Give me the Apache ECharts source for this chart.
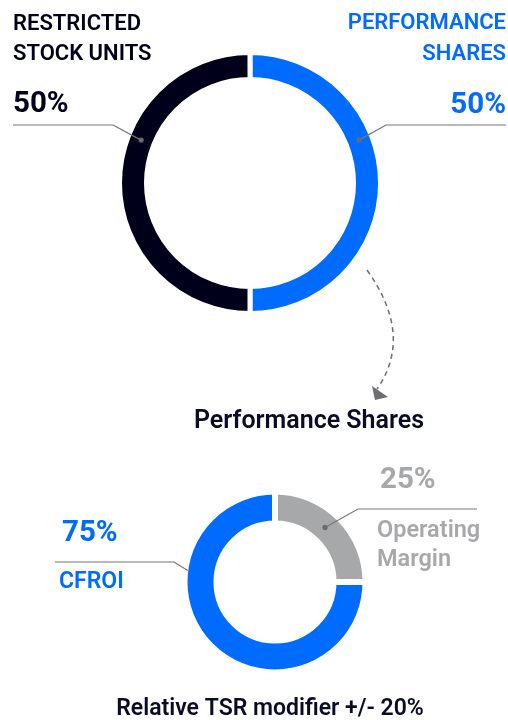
<!DOCTYPE html>
<html>
<head>
<meta charset="utf-8">
<script src="https://cdn.jsdelivr.net/npm/echarts@6/dist/echarts.min.js"></script>
<style>
  html, body { margin: 0; padding: 0; background: #ffffff; }
  #chart { width: 508px; height: 720px; }
</style>
</head>
<body>
<div id="chart"></div>
<script>
// 数据
const topNames = ['PERFORMANCE\nSHARES', 'RESTRICTED\nSTOCK UNITS'];
const topValues = [50, 50];
const bottomNames = ['Operating\nMargin', 'CFROI'];
const bottomValues = [25, 75];
const topTitle = 'Performance Shares';
const bottomTitle = 'Relative TSR modifier +/- 20%';

const NAVY = '#00001a';
const BLUE = '#006bff';
const GREY = '#a7a8aa';
const LINE = '#767676';
const FONT = 'Roboto';

const topColors = [BLUE, NAVY];
const bottomColors = [GREY, BLUE];

// 环形图位置
const topPie = { cx: 250, cy: 183, outer: 128, inner: 106, gap: 5 };
const bottomPie = { cx: 275, cy: 582, outer: 87.5, inner: 61.5, gap: 6 };

// 标注线（角度、半径、折点、终点）
const topCallouts = [
  { angle: 21.5, r: 117, elbow: [386, 125], endX: 506, dot: true, align: 'right', x: 506,
    nameTop: [15, 46], pctTop: 96, nameSize: 22 },
  { angle: 158.5, r: 117, elbow: [113, 125], endX: 13, dot: true, align: 'left', x: 13,
    nameTop: [16, 46], pctTop: 95, nameSize: 22 }
];
const bottomCallouts = [
  { angle: 47.5, r: 74, elbow: [358, 509], endX: 477, dot: true, align: 'left', x: 377,
    nameTop: [523, 552], pctTop: 471, pctX: 380, nameSize: 23.5 },
  { angle: 172.5, r: 88, elbow: [174, 562], endX: 55, dot: false, align: 'left', x: 59,
    nameTop: [574], pctTop: 524, pctX: 62, nameSize: 23 }
];

const polar = (p, r, deg) => {
  const a = deg * Math.PI / 180;
  return [p.cx + r * Math.cos(a), p.cy - r * Math.sin(a)];
};

const text = (x, capTop, capH, str, font, color, align) => ({
  type: 'text',
  silent: true,
  z: 20,
  style: {
    x: x, y: capTop + capH / 2, text: str, font: font, fill: color,
    textAlign: align, textVerticalAlign: 'middle'
  }
});

const callout = (pie, c, name, value, color) => {
  const a = polar(pie, c.r, c.angle);
  const els = [{
    type: 'polyline', silent: true, z: 20,
    shape: { points: [a, c.elbow, [c.endX, c.elbow[1]]] },
    style: { stroke: LINE, lineWidth: 1.2, fill: null }
  }];
  if (c.dot) {
    els.push({ type: 'circle', silent: true, z: 21, shape: { cx: a[0], cy: a[1], r: 2.6 }, style: { fill: '#6b6b6b' } });
  }
  const pctX = c.pctX !== undefined ? c.pctX : c.x;
  els.push(text(pctX, c.pctTop, 20, value + '%', '700 29.5px ' + FONT, color, c.align));
  name.split('\n').forEach((line, i) => {
    els.push(text(c.x, c.nameTop[i], 16, line, '600 ' + c.nameSize + 'px ' + FONT, color, c.align));
  });
  return els;
};

const pieSeries = (pie, names, values, colors) => ({
  type: 'pie',
  center: [pie.cx, pie.cy],
  radius: [pie.inner - pie.gap / 2, pie.outer + pie.gap / 2],
  startAngle: 90,
  clockwise: true,
  silent: true,
  z: 2,
  label: { show: false },
  labelLine: { show: false },
  itemStyle: { borderColor: '#ffffff', borderWidth: pie.gap },
  data: values.map((v, i) => ({ name: names[i], value: v, itemStyle: { color: colors[i] } }))
});

const graphics = [];
topCallouts.forEach((c, i) => graphics.push(...callout(topPie, c, topNames[i], topValues[i], topColors[i])));
bottomCallouts.forEach((c, i) => graphics.push(...callout(bottomPie, c, bottomNames[i], bottomValues[i], bottomColors[i])));

// 虚线箭头
graphics.push({
  type: 'bezierCurve', silent: true, z: 20,
  shape: { x1: 367, y1: 270, x2: 377, y2: 389, cpx1: 414, cpy1: 336 },
  style: { stroke: '#6d6e71', lineWidth: 1.5, lineDash: [5, 4], fill: null }
});
graphics.push({
  type: 'polygon', silent: true, z: 20,
  shape: { points: [[372, 386], [388, 397], [375, 400]] },
  style: { fill: '#6d6e71' }
});

// 标题
graphics.push(text(309, 412, 19, topTitle, '600 25px ' + FONT, '#0b0b26', 'center'));
graphics.push(text(270, 701, 16.5, bottomTitle, '600 23px ' + FONT, '#0b0b26', 'center'));

const chart = echarts.init(document.getElementById('chart'));
chart.setOption({
  backgroundColor: '#ffffff',
  animation: false,
  series: [
    pieSeries(topPie, topNames, topValues, topColors),
    pieSeries(bottomPie, bottomNames, bottomValues, bottomColors)
  ],
  graphic: { elements: graphics }
});
</script>
</body>
</html>
